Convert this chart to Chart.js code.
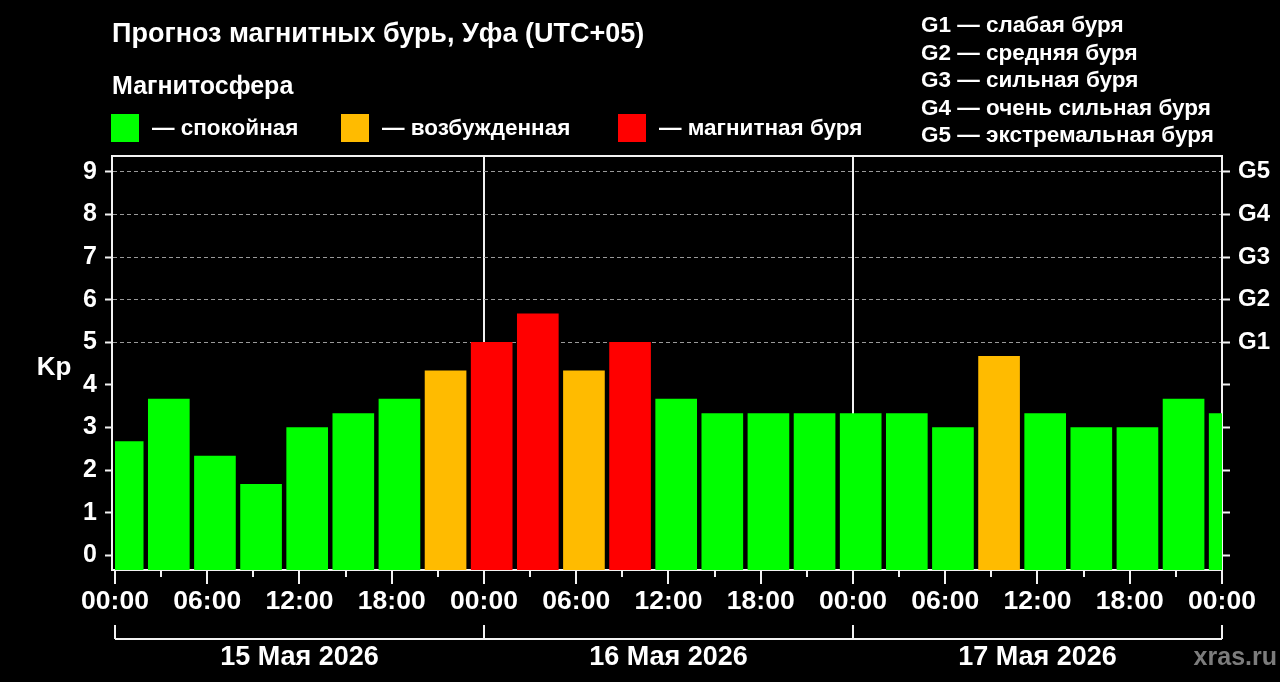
<!DOCTYPE html>
<html lang="ru">
<head>
<meta charset="utf-8">
<title>Прогноз магнитных бурь, Уфа (UTC+05)</title>
<script src="https://cdn.jsdelivr.net/npm/chart.js@4.4.0/dist/chart.umd.min.js"></script>
<style>
  html, body { margin: 0; padding: 0; background: #000; overflow: hidden; }
  #wrap { width: 1280px; height: 682px; }
</style>
</head>
<body>
<div id="wrap"><canvas id="kpChart" width="1280" height="682"></canvas></div>
<script>
// 3-hour Kp forecast, hours counted from 00:00 15 May (UTC+05)
const barHours = [0.5, 3.5, 6.5, 9.5, 12.5, 15.5, 18.5, 21.5, 24.5, 27.5, 30.5, 33.5, 36.5,
                  39.5, 42.5, 45.5, 48.5, 51.5, 54.5, 57.5, 60.5, 63.5, 66.5, 69.5, 72.5];
const kpValues = [2.67, 3.67, 2.33, 1.67, 3.0, 3.33, 3.67, 4.33, 5.0, 5.67, 4.33, 5.0, 3.67,
                  3.33, 3.33, 3.33, 3.33, 3.33, 3.0, 4.67, 3.33, 3.0, 3.0, 3.67, 3.33];

const timeTicks = [0, 6, 12, 18, 24, 30, 36, 42, 48, 54, 60, 66, 72];
const timeLabels = ['00:00', '06:00', '12:00', '18:00', '00:00', '06:00', '12:00', '18:00',
                    '00:00', '06:00', '12:00', '18:00', '00:00'];
const minorTicks = [3, 9, 15, 21, 27, 33, 39, 45, 51, 57, 63, 69];
const kpTicks = [0, 1, 2, 3, 4, 5, 6, 7, 8, 9];
const gLabels = ['', '', '', '', '', 'G1', 'G2', 'G3', 'G4', 'G5'];

const dayStarts = [0, 24, 48, 72];
const dayLabels = ['15 Мая 2026', '16 Мая 2026', '17 Мая 2026'];

const legendLabels = ['— спокойная', '— возбужденная', '— магнитная буря'];
const stormLabels = ['G1 — слабая буря', 'G2 — средняя буря', 'G3 — сильная буря',
                     'G4 — очень сильная буря', 'G5 — экстремальная буря'];

const GREEN = '#00ff00';
const ORANGE = '#ffbb00';
const RED = '#ff0000';
const legendColors = [GREEN, ORANGE, RED];

const FONT = "'Liberation Sans', Arial, sans-serif";
const yMin = -0.34;

function kpColor(v) {
    if (v >= 5) return RED;
    if (v >= 4) return ORANGE;
    return GREEN;
}

// Texts, legend, bracket under the time axis etc.
const decorPlugin = {
    id: 'decor',
    beforeDraw(chart) {
        const ctx = chart.ctx;
        ctx.save();
        ctx.fillStyle = '#000';
        ctx.fillRect(0, 0, chart.width, chart.height);
        ctx.restore();
    },
    afterDraw(chart) {
        const ctx = chart.ctx;
        const area = chart.chartArea;
        const x = chart.scales.x;
        ctx.save();

        // top frame line
        ctx.strokeStyle = '#f2f2f2';
        ctx.lineWidth = 2;
        ctx.beginPath();
        ctx.moveTo(area.left, area.top);
        ctx.lineTo(area.right, area.top);
        ctx.stroke();

        // short ticks at 3h
        minorTicks.forEach(h => {
            const px = Math.round(x.getPixelForValue(h));
            ctx.beginPath();
            ctx.moveTo(px, area.bottom);
            ctx.lineTo(px, area.bottom + 7);
            ctx.stroke();
        });

        // day brackets
        const by = 639;
        ctx.beginPath();
        ctx.moveTo(x.getPixelForValue(dayStarts[0]), by);
        ctx.lineTo(x.getPixelForValue(dayStarts[dayStarts.length - 1]), by);
        ctx.stroke();
        dayStarts.forEach(h => {
            const px = Math.round(x.getPixelForValue(h));
            ctx.beginPath();
            ctx.moveTo(px, by);
            ctx.lineTo(px, by - 14);
            ctx.stroke();
        });

        ctx.fillStyle = '#fff';
        ctx.textBaseline = 'alphabetic';
        ctx.textAlign = 'center';
        ctx.font = 'bold 27px ' + FONT;
        dayLabels.forEach((lbl, i) => {
            const cx = (x.getPixelForValue(dayStarts[i]) + x.getPixelForValue(dayStarts[i + 1])) / 2;
            ctx.fillText(lbl, cx, 665);
        });

        // axis name
        ctx.font = 'bold 26px ' + FONT;
        ctx.fillText('Kp', 54, 375);

        // watermark
        ctx.textAlign = 'right';
        ctx.fillStyle = '#7c7c7c';
        ctx.font = 'bold 25px ' + FONT;
        ctx.fillText('xras.ru', 1277, 665);

        // header
        ctx.textAlign = 'left';
        ctx.fillStyle = '#fff';
        ctx.font = 'bold 27px ' + FONT;
        ctx.fillText('Прогноз магнитных бурь, Уфа (UTC+05)', 112, 42);
        ctx.font = 'bold 25px ' + FONT;
        ctx.fillText('Магнитосфера', 112, 94);

        // colour legend
        const legendX = [111, 341, 618];
        ctx.font = 'bold 22.5px ' + FONT;
        legendLabels.forEach((lbl, i) => {
            ctx.fillStyle = legendColors[i];
            ctx.fillRect(legendX[i], 114, 28, 28);
            ctx.fillStyle = '#fff';
            ctx.fillText(lbl, legendX[i] + 41, 135);
        });

        // storm levels legend
        ctx.font = 'bold 22.5px ' + FONT;
        stormLabels.forEach((lbl, i) => {
            ctx.fillText(lbl, 921, 32 + i * 27.5);
        });

        ctx.restore();
    }
};

function renderKpChart() {
    const ctx = document.getElementById('kpChart').getContext('2d');
    new Chart(ctx, {
        type: 'bar',
        data: {
            datasets: [{
                data: barHours.map((h, i) => ({ x: h, y: kpValues[i] })),
                backgroundColor: c => kpColor(c.raw ? c.raw.y : 0),
                borderWidth: 0,
                barThickness: 41,
                base: yMin,
                clip: { left: -3, right: 0, top: 0, bottom: 0 }
            }]
        },
        options: {
            responsive: false,
            animation: false,
            devicePixelRatio: 1,
            layout: { padding: { top: 156, left: 0, right: 0, bottom: 0 } },
            plugins: { legend: { display: false }, tooltip: { enabled: false } },
            scales: {
                x: {
                    type: 'linear',
                    min: -0.195,
                    max: 72,
                    offset: false,
                    afterBuildTicks: s => { s.ticks = timeTicks.map(v => ({ value: v })); },
                    afterFit: s => { s.height = 112; },
                    grid: {
                        offset: false,
                        color: c => (c.tick && dayStarts.slice(1, -1).includes(c.tick.value)) ? '#f2f2f2' : 'transparent',
                        lineWidth: 2,
                        tickColor: '#f2f2f2',
                        tickWidth: 2,
                        tickLength: 14
                    },
                    border: { color: '#f2f2f2', width: 2 },
                    ticks: {
                        autoSkip: false,
                        maxRotation: 0,
                        padding: 2,
                        color: '#fff',
                        font: { family: FONT, size: 26.5, weight: 'bold' },
                        callback: (v, i) => timeLabels[i]
                    }
                },
                y: {
                    position: 'left',
                    min: yMin,
                    max: 9.37,
                    afterBuildTicks: s => { s.ticks = kpTicks.map(v => ({ value: v })); },
                    afterFit: s => { s.width = 112; },
                    grid: {
                        color: c => (c.tick && c.tick.value >= 5) ? '#9a9a9a' : 'transparent',
                        lineWidth: 1,
                        tickColor: '#f2f2f2',
                        tickWidth: 2,
                        tickLength: 7,
                        tickBorderDash: []
                    },
                    border: { color: '#f2f2f2', width: 2, dash: [4, 3] },
                    ticks: {
                        padding: 8,
                        color: '#fff',
                        font: { family: FONT, size: 25, weight: 'bold' }
                    }
                },
                y2: {
                    position: 'right',
                    min: yMin,
                    max: 9.37,
                    afterBuildTicks: s => { s.ticks = kpTicks.map(v => ({ value: v })); },
                    afterFit: s => { s.width = 58; },
                    grid: {
                        drawOnChartArea: false,
                        color: '#f2f2f2',
                        tickColor: '#f2f2f2',
                        tickWidth: 2,
                        tickLength: 8
                    },
                    border: { color: '#f2f2f2', width: 2 },
                    ticks: {
                        padding: 8,
                        color: '#fff',
                        font: { family: FONT, size: 24, weight: 'bold' },
                        callback: v => gLabels[v] || ''
                    }
                }
            }
        },
        plugins: [decorPlugin]
    });
}

window.onload = function() {
    renderKpChart();
};
</script>
</body>
</html>
